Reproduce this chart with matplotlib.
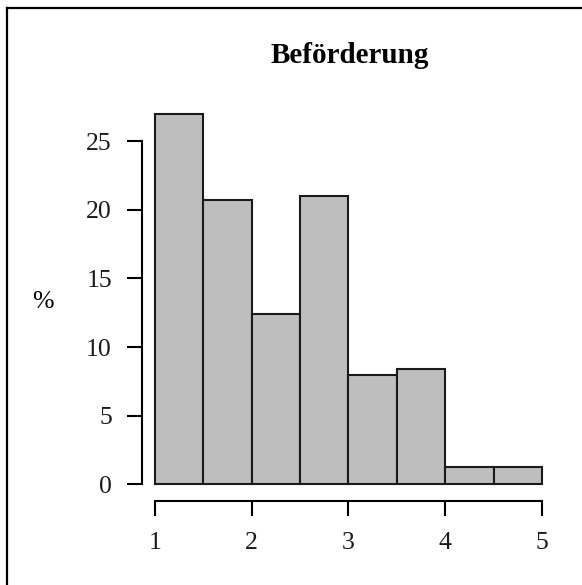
import numpy as np
import matplotlib
matplotlib.use('Agg')
import matplotlib.pyplot as plt
from matplotlib.lines import Line2D

plt.rc('font', family='Liberation Serif')

# histogram of "Beförderung", percent per class
breaks = [1.0, 1.5, 2.0, 2.5, 3.0, 3.5, 4.0, 4.5, 5.0]
percent = [27.0, 20.7, 12.4, 21.0, 8.0, 8.4, 1.3, 1.3]
xticks = [1, 2, 3, 4, 5]
yticks = [0, 5, 10, 15, 20, 25]

W, H = 582, 585
fig = plt.figure(figsize=(W/100, H/100), dpi=100)
# plot region in pixels: left 141.7, right 557.5, top 98.8, bottom 500.7
ax = fig.add_axes([141.7/W, (H-500.7)/H, (557.5-141.7)/W, (500.7-98.8)/H])

left = np.array(breaks[:-1])
widths = np.diff(breaks)
ax.bar(left, percent, width=widths, align='edge', color='#bebebe',
       edgecolor='#1a1a1a', linewidth=1.5)

ax.set_xlim(0.863, 5.16)
ax.set_ylim(-1.19, 28.08)

for s in ['top', 'right']:
    ax.spines[s].set_visible(False)
ax.spines['left'].set_bounds(0, 25)
ax.spines['bottom'].set_bounds(1, 5)
ax.spines['left'].set_linewidth(1.5)
ax.spines['bottom'].set_linewidth(1.5)

ax.set_xticks(xticks)
ax.set_yticks(yticks)
ax.tick_params(axis='both', direction='out', length=10.5, width=1.5,
               labelsize=18.5, labelcolor='#1a1a1a')
ax.tick_params(axis='y', pad=11)
ax.tick_params(axis='x', pad=12)

ax.set_title('Beförderung', fontsize=21, fontweight='bold', pad=26)
fig.text(43/W, 1-302/H, '%', fontsize=18.5, ha='center', va='center')

# frame around the figure (only left and top edges visible)
fig.add_artist(Line2D([6.5/W, 6.5/W], [0, 1-8/H], transform=fig.transFigure,
                      color='black', linewidth=1.6))
fig.add_artist(Line2D([6.5/W, 1], [1-8/H, 1-8/H], transform=fig.transFigure,
                      color='black', linewidth=1.6))

plt.savefig('out.png', dpi=100)
